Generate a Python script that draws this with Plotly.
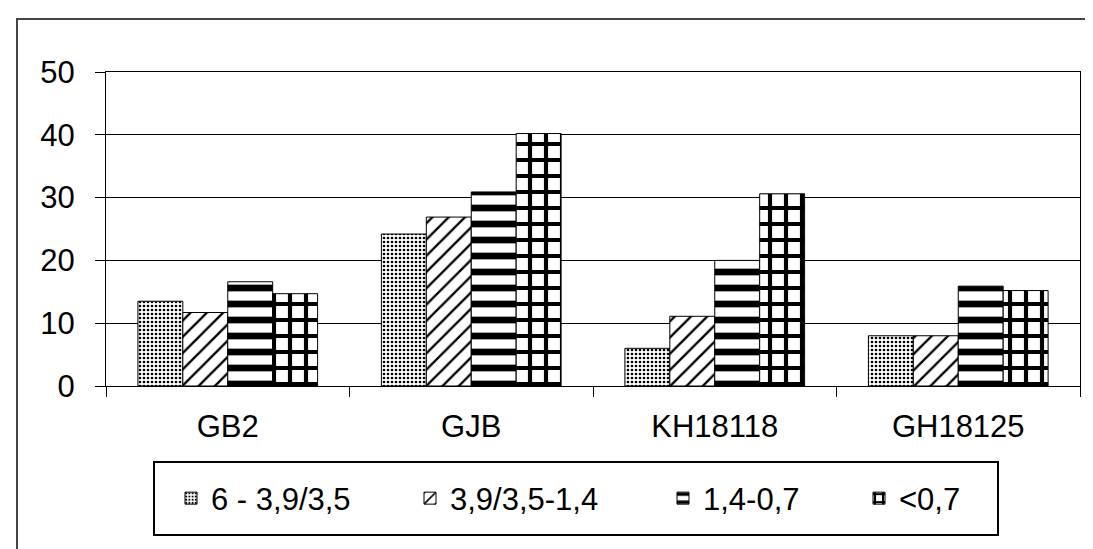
import plotly.graph_objects as go

categories = ["GB2", "GJB", "KH18118", "GH18125"]
series_names = ["6 - 3,9/3,5", "3,9/3,5-1,4", "1,4-0,7", "<0,7"]
values_s1 = [13.5, 24.2, 6.0, 8.0]
values_s2 = [11.7, 26.9, 11.1, 8.0]
values_s3 = [16.6, 30.9, 20.0, 15.9]
values_s4 = [14.7, 40.2, 30.6, 15.2]
y_ticks = [0, 10, 20, 30, 40, 50]

series_values = [values_s1, values_s2, values_s3, values_s4]
patterns = [
    dict(shape=".", size=4, solidity=0.35, fgcolor="black", bgcolor="white", fillmode="replace"),
    dict(shape="/", size=11.5, solidity=0.2, fgcolor="black", bgcolor="white", fillmode="replace"),
    dict(shape="-", size=16, solidity=0.42, fgcolor="black", bgcolor="white", fillmode="replace"),
    dict(shape="+", size=16, solidity=0.45, fgcolor="black", bgcolor="white", fillmode="replace"),
]

FONT = "Arial, 'Liberation Sans', sans-serif"

W, H = 1093, 549
L, R, T, B = 98, 21, 64, 171
pw, ph = W - L - R, H - T - B

def px(x):
    return (x - L) / pw

def py(y):
    return (H - B - y) / ph

legend_ids = ["legend", "legend2", "legend3", "legend4"]
legend_text_x = [212, 451, 704, 900]

fig = go.Figure()
for name, vals, pat, lid in zip(series_names, series_values, patterns, legend_ids):
    fig.add_trace(go.Bar(
        x=categories, y=vals, name=name, legend=lid,
        marker=dict(color="white", pattern=pat, line=dict(color="black", width=1)),
    ))

legend_layout = {}
for lid, tx in zip(legend_ids, legend_text_x):
    legend_layout[lid] = dict(
        orientation="h", x=px(tx - 49), xanchor="left", y=py(490.5), yanchor="middle",
        bgcolor="rgba(0,0,0,0)", borderwidth=0,
        font=dict(family=FONT, size=31, color="black"),
    )

fig.update_layout(
    width=W, height=H,
    margin=dict(l=L, r=R, t=T, b=B),
    paper_bgcolor="white", plot_bgcolor="white",
    font=dict(family=FONT, size=31, color="black"),
    barmode="group", bargap=0.262, bargroupgap=0,
    showlegend=True,
    xaxis=dict(
        type="category", showline=True, linecolor="black", linewidth=1, mirror=True,
        ticks="outside", ticklen=10, tickcolor="black", tickson="boundaries",
        showgrid=False, tickfont=dict(family=FONT, size=31, color="black"),
        ticklabelstandoff=13,
    ),
    yaxis=dict(
        range=[0, 50], tickvals=y_ticks, showline=True, linecolor="black", linewidth=1, mirror=True,
        ticks="outside", ticklen=10, tickcolor="black",
        showgrid=True, gridcolor="black", gridwidth=1, zeroline=False,
        tickfont=dict(family=FONT, size=31, color="black"), ticklabelstandoff=14,
    ),
    shapes=[
        dict(type="rect", xref="paper", yref="paper",
             x0=px(146), x1=px(990), y0=py(527), y1=py(454),
             line=dict(color="black", width=2), fillcolor="rgba(0,0,0,0)", layer="above"),
        dict(type="rect", xref="paper", yref="paper",
             x0=px(9), x1=px(1083), y0=py(570), y1=py(11),
             line=dict(color="#444", width=2), fillcolor="rgba(0,0,0,0)", layer="below"),
    ],
    **legend_layout,
)

fig.write_html("out.html")
